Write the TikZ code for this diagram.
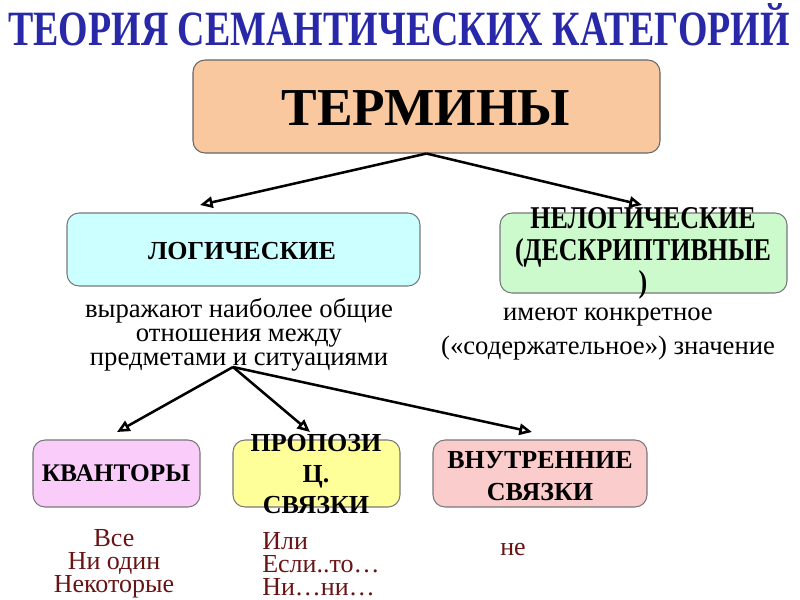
\documentclass[tikz,border=0pt]{standalone}
\usepackage{graphicx}
\usepackage{fontspec}
\setmainfont{Liberation Serif}
\usetikzlibrary{arrows.meta}
\definecolor{titleblue}{RGB}{40,40,168}
\definecolor{boxgray}{RGB}{120,120,120}
\definecolor{termfill}{RGB}{250,200,158}
\definecolor{logfill}{RGB}{204,255,255}
\definecolor{nelogfill}{RGB}{204,250,204}
\definecolor{kvfill}{RGB}{250,204,250}
\definecolor{propfill}{RGB}{255,255,153}
\definecolor{vnfill}{RGB}{250,204,204}
\definecolor{exred}{RGB}{105,20,20}
\begin{document}
\begin{tikzpicture}[x=0.75pt,y=-0.75pt,
  box/.style={draw=boxgray, line width=0.8pt, rounded corners=9pt, inner sep=0pt},
  lab/.style={font=\fontsize{19.5}{24}\selectfont\bfseries, align=center, inner sep=0pt},
  desc/.style={font=\fontsize{20}{17.8}\selectfont, align=center, inner sep=0pt},
  ex/.style={font=\fontsize{19.5}{17.2}\selectfont, text=exred, inner sep=0pt},
  arr/.style={line width=1.9pt, -{Triangle[open,length=9.5pt,width=8.5pt]}}]
\useasboundingbox (0,0) rectangle (800,600);
% title
\node[anchor=base, text=titleblue, inner sep=0pt] (title) at (399,45)
  {\resizebox{586pt}{\height}{\fontsize{37}{37}\selectfont\bfseries ТЕОРИЯ СЕМАНТИЧЕСКИХ КАТЕГОРИЙ}};
% top box
\node[box, fill=termfill, draw=black!60, minimum width=350.25pt, minimum height=69.75pt] (term) at (426.5,106.5) {};
\node[anchor=base, inner sep=0pt, font=\fontsize{40}{40}\selectfont\bfseries] (termtxt) at (426,125) {ТЕРМИНЫ};
% second level boxes
\node[box, fill=logfill, minimum width=264.75pt, minimum height=54.75pt] (log) at (243.5,249.5) {};
\node[lab] (logtxt) at (242,251) {ЛОГИЧЕСКИЕ};
\node[box, fill=nelogfill, minimum width=215.25pt, minimum height=60pt] (nelog) at (643.5,253) {};
\node[inner sep=0pt] (nelogtxt) at (643,254)
  {\scalebox{1}[1.22]{\fontsize{19.5}{19.8}\selectfont\bfseries\begin{tabular}{@{}c@{}}НЕЛОГИЧЕСКИЕ\\(ДЕСКРИПТИВНЫЕ\\)\end{tabular}}};
% descriptions
\node[desc] (logdesc) at (239,335) {выражают наиболее общие\\отношения между\\предметами и ситуациями};
\node[desc, font=\fontsize{20}{25.5}\selectfont] (nelogdesc) at (608,334) {имеют конкретное\\(«содержательное») значение};
% third level boxes
\node[box, fill=kvfill, minimum width=125.25pt, minimum height=50.25pt] (kv) at (116.5,473.5) {};
\node[lab, font=\fontsize{19}{24}\selectfont\bfseries] (kvtxt) at (116,473) {КВАНТОРЫ};
\node[box, fill=propfill, minimum width=125.25pt, minimum height=50.25pt] (prop) at (316.5,473.5) {};
\node[lab, font=\fontsize{19.5}{23.6}\selectfont\bfseries] (proptxt) at (316,474) {ПРОПОЗИ\\Ц.\\СВЯЗКИ};
\node[box, fill=vnfill, minimum width=160.5pt, minimum height=50.25pt] (vn) at (540,473.5) {};
\node[lab] (vntxt) at (540,476) {ВНУТРЕННИЕ\\СВЯЗКИ};
% examples
\node[ex, align=center] (kvex) at (114,564) {Все\\Ни один\\Некоторые};
\node[ex, align=left, anchor=west] (propex) at (262,564) {Или\\Если..то…\\Ни…ни…};
\node[ex, anchor=base west] (vnex) at (500,555) {не};
% arrows
\coordinate (t1) at (200,205);
\coordinate (t2) at (642,205);
\coordinate (hub) at (233,367);
\coordinate (t3) at (117,432);
\coordinate (t4) at (310,432);
\coordinate (t5) at (532,432);
\draw[arr] (term.south) -- (t1);
\draw[arr] (term.south) -- (t2);
\draw[arr] (hub) -- (t3);
\draw[arr] (hub) -- (t4);
\draw[arr] (hub) -- (t5);
\end{tikzpicture}
\end{document}
